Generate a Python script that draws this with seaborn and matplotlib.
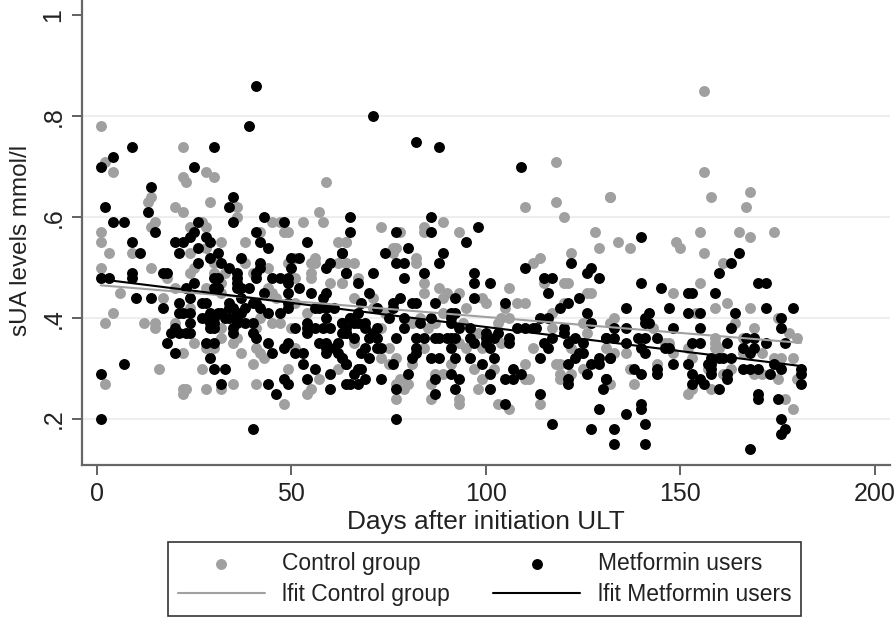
import pandas as pd
import matplotlib
matplotlib.use('Agg')
import matplotlib.pyplot as plt
import seaborn as sns

# Points, days after initiation and sUA level per group
metformin_days = [
    41,39,9,30,4,1,25,14,35,2,34,13,35,4,7,43,26,48,15,41,
    25,24,28,9,20,22,29,42,54,26,44,11,21,31,63,29,37,50,52,26,
    32,42,60,34,50,42,59,9,17,18,36,41,64,1,3,9,30,31,36,41,
    45,47,49,25,36,49,23,30,31,36,37,39,52,43,49,55,59,10,14,24,
    58,21,27,28,34,37,49,40,41,17,34,35,38,42,49,56,57,59,61,21,
    22,24,29,31,32,36,37,44,47,28,27,30,33,34,36,59,65,24,29,30,
    36,38,40,54,63,20,29,30,35,51,54,56,58,60,19,21,23,24,35,40,
    54,63,64,18,28,30,41,44,49,57,59,62,48,59,61,20,45,51,53,59,
    62,29,63,7,53,64,30,33,56,1,60,48,54,32,44,49,64,60,46,1,
    40,71,82,88,109,65,86,65,77,86,98,95,80,63,74,89,88,77,79,122,
    110,127,126,64,71,84,97,79,97,115,117,129,67,101,116,70,78,97,92,124,
    76,68,81,82,87,105,121,119,72,76,67,91,92,126,65,75,79,86,91,114,
    116,63,66,67,69,83,91,127,64,69,72,79,93,96,108,110,112,113,120,64,
    71,100,103,120,66,70,72,77,82,84,87,88,90,91,92,96,100,102,106,117,
    123,131,97,100,106,115,121,125,69,72,73,82,91,101,116,68,82,125,124,63,
    70,81,86,88,92,96,102,114,123,129,132,64,76,99,121,127,129,67,68,107,
    66,80,91,101,109,126,65,67,69,73,87,93,105,107,121,121,131,77,92,101,
    130,87,114,105,129,77,117,127,140,165,163,160,140,170,172,145,152,153,159,136,
    147,172,179,142,152,155,164,141,176,142,141,133,136,148,155,163,176,131,133,139,
    141,144,167,169,136,153,155,162,172,177,140,146,147,166,169,141,168,132,158,160,
    161,163,148,152,157,158,174,144,138,158,166,168,170,176,181,140,144,153,158,162,
    173,181,155,162,131,153,156,181,160,170,170,175,140,140,136,176,141,133,177,176,
    133,141,168]
metformin_sua = [
    .86,.78,.74,.74,.72,.70,.70,.66,.64,.62,.62,.61,.59,.59,.59,.60,.59,.59,.57,.57,
    .57,.56,.56,.55,.55,.55,.55,.55,.55,.54,.54,.53,.53,.53,.53,.52,.52,.52,.52,.51,
    .51,.51,.51,.50,.50,.50,.50,.49,.49,.49,.49,.49,.49,.48,.48,.48,.48,.48,.48,.48,
    .48,.48,.48,.47,.47,.47,.46,.46,.46,.46,.46,.46,.46,.45,.45,.45,.45,.44,.44,.44,
    .44,.43,.43,.43,.43,.44,.43,.43,.43,.42,.42,.42,.42,.42,.42,.42,.42,.42,.42,.41,
    .41,.41,.41,.41,.41,.41,.41,.41,.41,.40,.40,.40,.40,.40,.40,.40,.40,.39,.39,.39,
    .39,.39,.39,.39,.39,.38,.38,.38,.38,.38,.38,.38,.38,.38,.37,.37,.37,.37,.37,.37,
    .37,.37,.37,.35,.35,.35,.36,.35,.35,.35,.35,.35,.34,.34,.34,.33,.33,.33,.33,.33,
    .33,.32,.32,.31,.31,.31,.30,.30,.30,.29,.29,.28,.28,.27,.27,.27,.27,.26,.25,.20,
    .18,.80,.75,.74,.70,.60,.60,.57,.57,.57,.58,.55,.54,.53,.53,.53,.51,.51,.51,.51,
    .50,.50,.49,.49,.49,.49,.49,.48,.47,.48,.48,.48,.47,.47,.45,.45,.44,.44,.44,.44,
    .43,.43,.43,.43,.43,.43,.43,.42,.42,.42,.41,.41,.41,.41,.40,.40,.40,.40,.40,.40,
    .40,.39,.39,.39,.39,.39,.39,.39,.38,.38,.38,.38,.38,.38,.38,.38,.38,.38,.38,.37,
    .37,.37,.37,.37,.36,.36,.36,.36,.36,.36,.36,.36,.36,.36,.36,.36,.36,.36,.36,.36,
    .36,.36,.35,.35,.35,.35,.35,.35,.34,.34,.34,.34,.34,.34,.34,.33,.33,.33,.33,.32,
    .32,.32,.32,.32,.32,.32,.32,.32,.32,.32,.32,.31,.31,.31,.31,.31,.31,.30,.30,.30,
    .29,.29,.29,.29,.29,.29,.27,.27,.28,.28,.28,.28,.28,.28,.28,.27,.28,.26,.26,.26,
    .26,.25,.25,.23,.22,.20,.19,.18,.56,.53,.51,.49,.47,.47,.47,.46,.45,.45,.45,.42,
    .42,.42,.42,.41,.41,.41,.41,.40,.40,.39,.39,.38,.38,.38,.38,.38,.38,.36,.36,.36,
    .36,.36,.36,.36,.35,.35,.35,.35,.35,.35,.34,.34,.34,.34,.34,.33,.33,.32,.32,.32,
    .32,.32,.31,.31,.31,.31,.31,.30,.30,.30,.30,.30,.30,.30,.30,.29,.29,.29,.29,.29,
    .29,.29,.28,.28,.28,.27,.27,.27,.26,.25,.24,.24,.23,.22,.21,.20,.19,.18,.18,.17,
    .15,.15,.14]

control_days = [
    1,2,4,22,22,23,28,30,59,14,13,29,20,36,22,36,57,15,14,27,
    24,28,45,47,53,58,1,42,48,49,1,32,38,62,64,3,9,24,28,51,
    56,55,56,62,64,38,30,49,1,14,25,44,24,33,30,40,55,18,51,55,
    32,60,63,20,28,44,6,45,17,32,46,51,24,54,4,42,2,12,15,45,
    47,20,15,32,41,50,32,36,25,35,41,28,30,42,51,22,37,43,40,16,
    27,49,62,57,2,35,41,23,22,28,32,55,22,54,48,118,110,118,120,128,
    129,132,73,84,89,84,78,93,64,76,77,76,122,114,82,112,82,64,66,67,
    84,115,120,121,63,88,106,84,90,93,126,127,66,71,89,99,100,108,110,120,
    95,105,71,74,117,89,104,106,83,103,81,94,87,125,117,85,73,98,126,66,
    62,93,104,75,84,95,99,112,122,73,75,77,81,91,110,118,119,97,125,119,
    102,87,89,122,99,110,111,119,78,86,80,77,79,98,86,77,93,93,103,114,
    106,156,156,158,132,168,167,155,165,174,168,156,134,137,149,150,161,155,148,162,
    159,168,154,133,132,175,164,169,143,178,180,159,159,166,146,147,152,159,160,131,
    133,136,148,166,171,174,176,179,153,144,137,163,157,161,169,171,180,175,132,138,
    153,158,152,177,179]
control_sua = [
    .78,.71,.69,.74,.68,.67,.69,.68,.67,.64,.63,.63,.62,.62,.61,.60,.61,.59,.58,.59,
    .58,.58,.59,.59,.59,.59,.57,.57,.57,.57,.55,.55,.55,.55,.55,.53,.53,.53,.54,.52,
    .52,.51,.51,.51,.51,.51,.51,.51,.50,.50,.50,.50,.49,.49,.49,.49,.49,.48,.48,.48,
    .47,.47,.47,.46,.46,.46,.45,.45,.44,.45,.44,.43,.42,.41,.41,.40,.39,.39,.39,.39,
    .39,.39,.38,.38,.38,.38,.36,.36,.35,.35,.34,.34,.34,.33,.34,.33,.33,.32,.31,.30,
    .30,.30,.30,.28,.27,.27,.27,.26,.26,.26,.26,.26,.25,.25,.23,.71,.62,.63,.60,.57,
    .54,.64,.58,.58,.59,.57,.57,.57,.55,.54,.54,.53,.53,.52,.52,.51,.51,.51,.51,.48,
    .47,.47,.47,.47,.47,.46,.46,.45,.45,.45,.45,.45,.44,.44,.44,.44,.43,.43,.43,.43,
    .42,.42,.42,.41,.41,.41,.40,.40,.40,.39,.39,.39,.39,.39,.38,.38,.38,.37,.37,.35,
    .35,.35,.35,.34,.34,.34,.34,.34,.34,.32,.31,.32,.31,.31,.31,.31,.31,.30,.30,.29,
    .30,.29,.29,.29,.28,.28,.28,.28,.28,.27,.27,.27,.26,.26,.24,.24,.24,.23,.23,.23,
    .22,.85,.69,.64,.64,.65,.62,.57,.57,.57,.56,.53,.55,.54,.55,.54,.51,.47,.45,.43,
    .42,.42,.41,.40,.39,.40,.39,.38,.38,.37,.36,.36,.35,.36,.35,.35,.34,.34,.34,.34,
    .33,.33,.33,.33,.33,.32,.32,.32,.32,.31,.30,.30,.30,.29,.29,.29,.28,.28,.27,.27,
    .26,.26,.25,.24,.22]

# Fitted lines, some gray points are hidden under the black ones
fit_days = [1, 181]
fit_control = [.465, .351]
fit_metformin = [.477, .305]

x_ticks = [0, 50, 100, 150, 200]
y_ticks = [.2, .4, .6, .8, 1]
y_tick_labels = ['.2', '.4', '.6', '.8', '1']

GRAY = '#a0a0a0'
BLACK = '#000000'

control = pd.DataFrame({'days': control_days, 'sua': control_sua})
metformin = pd.DataFrame({'days': metformin_days, 'sua': metformin_sua})

sns.set_style('white')
plt.rcParams['font.family'] = ['Liberation Sans', 'DejaVu Sans']

W, H = 896, 618
fig = plt.figure(figsize=(W / 100, H / 100), dpi=100)
ax = fig.add_axes([82 / W, 1 - 465 / H, (890 - 82) / W, 465 / H])

sns.scatterplot(data=control, x='days', y='sua', color=GRAY, s=62, linewidth=0,
                ax=ax, label='Control group', zorder=3)
sns.scatterplot(data=metformin, x='days', y='sua', color=BLACK, s=62, linewidth=0,
                ax=ax, label='Metformin users', zorder=4)
sns.lineplot(x=fit_days, y=fit_control, color=GRAY, lw=1.5, ax=ax,
             label='lfit Control group', zorder=5)
sns.lineplot(x=fit_days, y=fit_metformin, color=BLACK, lw=1.5, ax=ax,
             label='lfit Metformin users', zorder=6)

ax.set_xlim(-3.86, 203.9)
ax.set_ylim(.1088, 1.0307)
ax.set_xticks(x_ticks)
ax.set_yticks(y_ticks)
ax.set_yticklabels(y_tick_labels, rotation=90, va='center')
ax.tick_params(axis='both', length=7, width=1.3, color='#555555', labelsize=18,
               labelcolor='#222222', bottom=True, left=True, pad=5)
ax.grid(axis='y', color='#eeeeee', lw=1.5)
ax.get_ygridlines()[-1].set_visible(False)
ax.set_axisbelow(True)
ax.set_xlabel('Days after initiation ULT', fontsize=18.9, color='#222222', labelpad=3)
ax.set_ylabel('sUA levels mmol/l', fontsize=17.5, color='#222222', labelpad=7, y=.482)
sns.despine(ax=ax)
for side in ['left', 'bottom']:
    ax.spines[side].set_color('#666666')
    ax.spines[side].set_linewidth(1.6)

handles, labels = ax.get_legend_handles_labels()
order = [labels.index(n) for n in ['Control group', 'lfit Control group',
                                   'Metformin users', 'lfit Metformin users']]
ax.get_legend().remove()
leg = fig.legend([handles[i] for i in order], [labels[i] for i in order], ncols=2,
                 loc='lower left', bbox_to_anchor=(168 / W, 1 - 616 / H),
                 borderaxespad=0, fontsize=16.5, frameon=True, fancybox=False,
                 edgecolor='#333333', framealpha=1, handlelength=3.8, handletextpad=0.75,
                 columnspacing=1.9, labelspacing=0.38, borderpad=0.42, labelcolor='#222222')
leg.get_frame().set_linewidth(1.2)

fig.savefig('out.png', dpi=100)
